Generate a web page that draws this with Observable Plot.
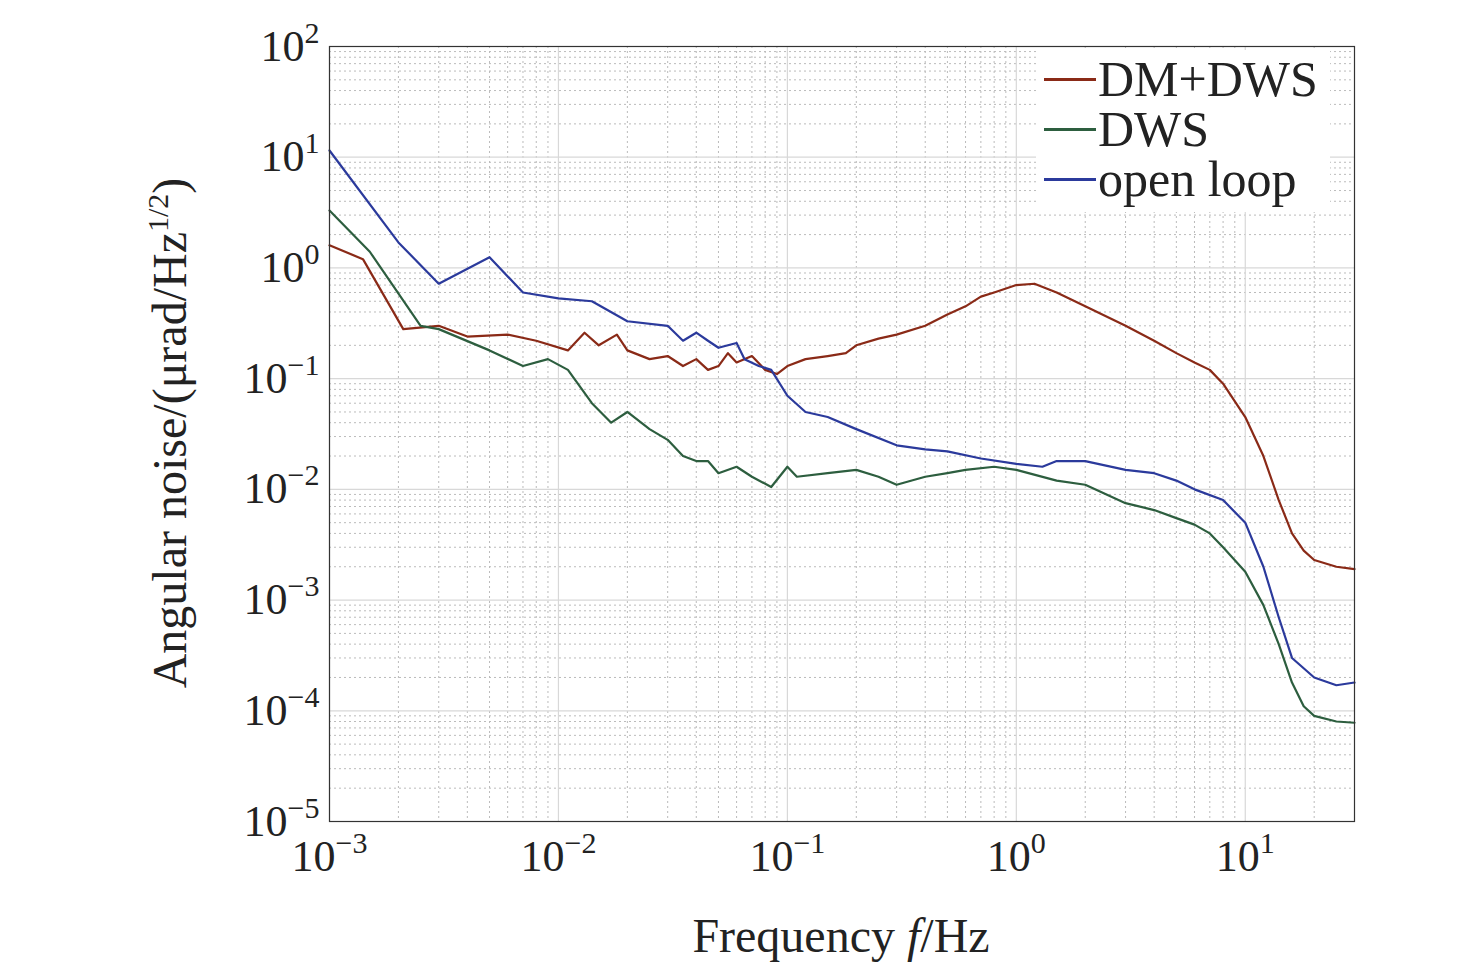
<!DOCTYPE html>
<html><head><meta charset="utf-8">
<script src="https://cdn.jsdelivr.net/npm/d3@7"></script>
<script src="https://cdn.jsdelivr.net/npm/@observablehq/plot@0.6"></script>
<style>
body{margin:0;background:#fff;font-family:"Liberation Serif",serif}
#wrap{position:relative;width:1476px;height:969px}
#legend{position:absolute;left:1036px;top:50px;background:#fff;padding:4px 12px 8px 8px;font-size:50px;line-height:50px;color:#222}
#legend div{display:flex;align-items:center}
#legend span.l{display:inline-block;width:52px;height:3px;margin-right:2px}
</style></head><body><div id="wrap"><div id="chart"></div>
<div id="legend"></div></div>
<script>
const seriesNames=["DM+DWS","DWS","open loop"];
const colors=["#8a2a17","#2d5e3f","#2b3a9c"];
const dmF=[0.001,0.0014,0.0021,0.003,0.004,0.006,0.008,0.011,0.013,0.015,0.018,0.02,0.025,0.03,0.035,0.04,0.045,0.05,0.055,0.06,0.07,0.08,0.09,0.1,0.12,0.15,0.18,0.2,0.25,0.3,0.4,0.5,0.6,0.7,0.8,1.0,1.2,1.5,2,3,4,5,6,7,8,10,12,14,16,18,20,25,30];
const dmV=[1.6,1.2,0.28,0.3,0.24,0.25,0.22,0.18,0.26,0.2,0.25,0.18,0.15,0.16,0.13,0.15,0.12,0.13,0.17,0.14,0.16,0.12,0.11,0.13,0.15,0.16,0.17,0.2,0.23,0.25,0.3,0.38,0.45,0.55,0.6,0.7,0.72,0.6,0.45,0.3,0.22,0.17,0.14,0.12,0.09,0.045,0.02,0.008,0.004,0.0028,0.0023,0.002,0.0019];
const dwsF=[0.001,0.0015,0.0025,0.003,0.005,0.007,0.009,0.011,0.014,0.017,0.02,0.025,0.03,0.035,0.04,0.045,0.05,0.06,0.07,0.085,0.1,0.11,0.15,0.2,0.25,0.3,0.4,0.5,0.6,0.8,1.0,1.5,2,3,4,5,6,7,8,10,12,14,16,18,20,25,30];
const dwsV=[3.3,1.4,0.3,0.28,0.18,0.13,0.15,0.12,0.06,0.04,0.05,0.035,0.028,0.02,0.018,0.018,0.014,0.016,0.013,0.0105,0.016,0.013,0.014,0.015,0.013,0.011,0.013,0.014,0.015,0.016,0.015,0.012,0.011,0.0075,0.0065,0.0055,0.0048,0.004,0.003,0.0018,0.0009,0.0004,0.00018,0.00011,0.00009,0.00008,0.000078];
const olF=[0.001,0.002,0.003,0.005,0.007,0.01,0.014,0.02,0.03,0.035,0.04,0.045,0.05,0.06,0.065,0.075,0.085,0.1,0.12,0.15,0.2,0.3,0.4,0.5,0.7,1.0,1.3,1.5,2,3,4,5,6,8,10,12,14,16,20,25,30];
const olV=[11.5,1.7,0.72,1.25,0.6,0.53,0.5,0.33,0.3,0.22,0.26,0.22,0.19,0.21,0.15,0.13,0.12,0.07,0.05,0.045,0.035,0.025,0.023,0.022,0.019,0.017,0.016,0.018,0.018,0.015,0.014,0.012,0.01,0.008,0.005,0.002,0.0007,0.0003,0.0002,0.00017,0.00018];
const xTicks=[1e-3,1e-2,1e-1,1,10];
const yTicks=[1e-5,1e-4,1e-3,1e-2,1e-1,1,10,100];
const xExp=["−3","−2","−1","0","1"];
const yExp=["−5","−4","−3","−2","−1","0","1","2"];
const data=[];
[[dmF,dmV],[dwsF,dwsV],[olF,olV]].forEach(([f,v],i)=>f.forEach((x,j)=>data.push({s:seriesNames[i],f:x,v:v[j]})));
const minorX=[],minorY=[];
for(let e=-3;e<=1;e++)for(let k=2;k<=9;k++){const x=k*10**e;if(x<=30)minorX.push(x);}
for(let e=-5;e<=1;e++)for(let k=2;k<=9;k++)minorY.push(k*10**e);
const xi=d=>xTicks.findIndex(t=>Math.abs(t-d)/t<1e-6);
const yi=d=>yTicks.findIndex(t=>Math.abs(t-d)/t<1e-6);
const chart=Plot.plot({
 width:1476,height:969,marginLeft:329,marginRight:122,marginTop:46,marginBottom:148,
 style:{fontFamily:"Liberation Serif, serif",fontSize:"44px",color:"#222"},
 x:{type:"log",domain:[1e-3,30],label:null},
 y:{type:"log",domain:[1e-5,100],label:null},
 color:{domain:seriesNames,range:colors},
 marks:[
  Plot.ruleX(minorX,{stroke:"#bbb",strokeDasharray:"2,3",strokeWidth:1}),
  Plot.ruleY(minorY,{stroke:"#bbb",strokeDasharray:"2,3",strokeWidth:1}),
  Plot.ruleX(xTicks,{stroke:"#d8d8d8",strokeWidth:1.2}),
  Plot.ruleY(yTicks,{stroke:"#d8d8d8",strokeWidth:1.2}),
  Plot.line(data,{x:"f",y:"v",z:"s",stroke:"s",strokeWidth:2.2}),
  Plot.frame({stroke:"#333",strokeWidth:1.2}),
  Plot.axisX({ticks:xTicks,tickFormat:d=>"X"+xi(d),tickSize:0,tickPadding:18,fontSize:44,label:null}),
  Plot.axisY({ticks:yTicks,tickFormat:d=>"Y"+yi(d),tickSize:0,tickPadding:10,fontSize:44,label:null})
 ]
});
document.getElementById("chart").appendChild(chart);
const svg=d3.select(chart);
svg.selectAll("text").each(function(){
  const t=this.textContent;const m=/^([XY])(\d)$/.exec(t);
  if(!m)return;const e=(m[1]==="X"?xExp:yExp)[+m[2]];
  const el=d3.select(this);el.text(null);
  el.append("tspan").text("10");
  el.append("tspan").attr("dy","-18").attr("font-size","30").text(e);
});
svg.append("text").attr("x",841).attr("y",952).attr("text-anchor","middle").attr("font-size",48).attr("fill","#222")
 .html('Frequency <tspan font-style="italic">f</tspan>/Hz');
svg.append("text").attr("transform","translate(186,433) rotate(-90)").attr("text-anchor","middle").attr("font-size",48).attr("fill","#222")
 .html('Angular noise/(μrad/Hz<tspan dy="-18" font-size="30">1/2</tspan><tspan dy="18">)</tspan>');
const lg=document.getElementById("legend");
seriesNames.forEach((n,i)=>{lg.innerHTML+=`<div><span class="l" style="background:${colors[i]}"></span>${n}</div>`;});
</script></body></html>
